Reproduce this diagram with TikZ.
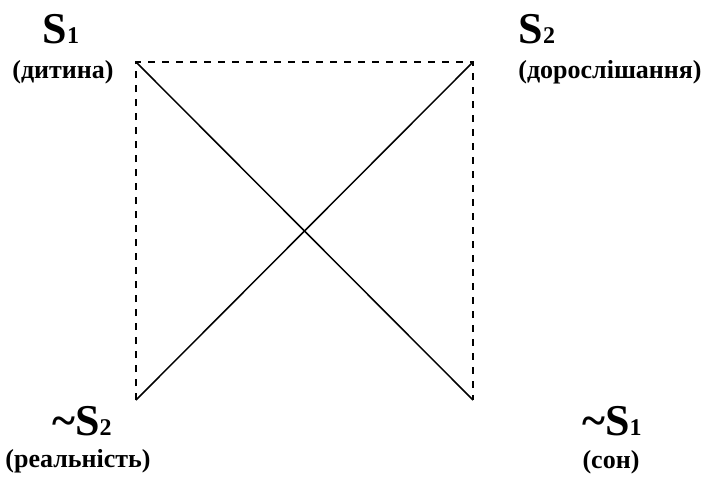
\documentclass[tikz,border=0pt]{standalone}
\usepackage{fontspec}
\setmainfont{Liberation Serif}
\newcommand{\ix}[1]{{\fontsize{24}{26}\selectfont #1}}

\begin{document}
\begin{tikzpicture}[
    x=1pt, y=-1pt,
    sign/.style={inner sep=0pt, anchor=base, font=\fontsize{44}{48}\selectfont\bfseries},
    gloss/.style={inner sep=0pt, font=\fontsize{26}{28}\selectfont\bfseries},
    side/.style={line width=1.5pt, dash pattern=on 7pt off 7pt},
    cross/.style={line width=1.5pt}
]
\useasboundingbox (0,0) rectangle (707,480);
% corners of the square
\coordinate (tl) at (136,62);
\coordinate (tr) at (473,62);
\coordinate (bl) at (136,400);
\coordinate (br) at (473,400);
% labels
\node[sign] (s1) at (61,43) {S\ix{1}};
\node[gloss] (s1t) at (63,72) {(дитина)};
\node[sign] (s2) at (537,43) {S\ix{2}};
\node[gloss] (s2t) at (610,72) {(дорослішання)};
\node[sign] (ns2) at (82,435) {\textasciitilde S\ix{2}};
\node[gloss] (ns2t) at (78,461) {(реальність)};
\node[sign] (ns1) at (612,435) {\textasciitilde S\ix{1}};
\node[gloss] (ns1t) at (611,462) {(сон)};
% sides and diagonals
\draw[side] (bl) -- (tl) -- (tr) -- (br);
\draw[cross] (tl) -- (br);
\draw[cross] (bl) -- (tr);
\end{tikzpicture}
\end{document}
